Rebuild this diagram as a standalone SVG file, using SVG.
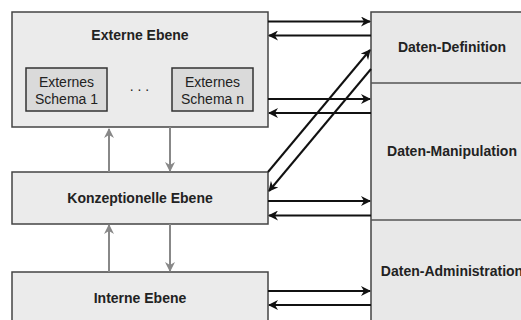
<svg xmlns="http://www.w3.org/2000/svg" width="521" height="320" viewBox="0 0 521 320">
  <style>
    .box { fill: #ebebeb; stroke: #444; stroke-width: 1.5; }
    .inner { fill: #dadada; stroke: #333; stroke-width: 1.5; }
    .col { fill: #e8e8e8; stroke: #444; stroke-width: 1.5; }
    .div { stroke: #555; stroke-width: 1.5; }
    .title { font-family: "Liberation Sans", Arial, sans-serif; font-size: 14px; font-weight: bold; fill: #222; text-anchor: middle; }
    .label { font-family: "Liberation Sans", Arial, sans-serif; font-size: 14px; fill: #222; text-anchor: middle; }
    .flow { stroke: #111; stroke-width: 2; fill: none; marker-end: url(#blackHead); }
    .level { stroke: #888; stroke-width: 2; fill: none; marker-end: url(#grayHead); }
  </style>
  <defs>
    <marker id="blackHead" viewBox="0 0 10 10" refX="9" refY="5" markerWidth="5" markerHeight="5" markerUnits="strokeWidth" orient="auto">
      <path d="M0,0 L10,5 L0,10 L3,5 z" fill="#111"/>
    </marker>
    <marker id="grayHead" viewBox="0 0 10 10" refX="9" refY="5" markerWidth="5" markerHeight="5" markerUnits="strokeWidth" orient="auto">
      <path d="M0,0 L10,5 L0,10 L3,5 z" fill="#888"/>
    </marker>
  </defs>

  <!-- right column: administration functions -->
  <g id="functions">
    <rect class="col" x="371" y="12" width="200" height="320"/>
    <line class="div" x1="371" y1="83" x2="521" y2="83"/>
    <line class="div" x1="371" y1="220" x2="521" y2="220"/>
  </g>
  <g id="daten-definition">
    <text class="title" x="452" y="52">Daten-Definition</text>
  </g>
  <g id="daten-manipulation">
    <text class="title" x="452" y="156">Daten-Manipulation</text>
  </g>
  <g id="daten-administration">
    <text class="title" x="452" y="276">Daten-Administration</text>
  </g>

  <!-- external level with its schemas -->
  <g id="externe-ebene">
    <rect class="box" x="12" y="12" width="256" height="115"/>
    <text class="title" x="140" y="40">Externe Ebene</text>
  </g>
  <g id="externes-schema-1">
    <rect class="inner" x="26" y="68" width="81" height="43"/>
    <text class="label" x="66.5" y="87">Externes</text>
    <text class="label" x="66.5" y="103.5">Schema 1</text>
  </g>
  <g id="ellipsis">
    <text class="label" x="139.5" y="91">. . .</text>
  </g>
  <g id="externes-schema-n">
    <rect class="inner" x="172" y="68" width="81" height="43"/>
    <text class="label" x="212.5" y="87">Externes</text>
    <text class="label" x="212.5" y="103.5">Schema n</text>
  </g>

  <g id="konzeptionelle-ebene">
    <rect class="box" x="12" y="172" width="256" height="52"/>
    <text class="title" x="140" y="203">Konzeptionelle Ebene</text>
  </g>

  <g id="interne-ebene">
    <rect class="box" x="12" y="272" width="256" height="60"/>
    <text class="title" x="140" y="303">Interne Ebene</text>
  </g>

  <g id="connectors">
    <!-- mappings between levels -->
    <line class="level" x1="109" y1="172" x2="109" y2="129"/>
    <line class="level" x1="170" y1="127" x2="170" y2="171"/>
    <line class="level" x1="109" y1="272" x2="109" y2="225"/>
    <line class="level" x1="170" y1="224" x2="170" y2="271"/>

    <!-- external level -->
    <line class="flow" x1="268" y1="21.5" x2="370" y2="21.5"/>
    <line class="flow" x1="371" y1="35.5" x2="269" y2="35.5"/>
    <line class="flow" x1="268" y1="99" x2="370" y2="99"/>
    <line class="flow" x1="371" y1="113" x2="269" y2="113"/>

    <!-- conceptual level to data definition -->
    <line class="flow" x1="268" y1="172" x2="370" y2="50"/>
    <line class="flow" x1="371" y1="69" x2="269" y2="191"/>

    <!-- conceptual level -->
    <line class="flow" x1="268" y1="201" x2="370" y2="201"/>
    <line class="flow" x1="371" y1="215.5" x2="269" y2="215.5"/>

    <!-- internal level -->
    <line class="flow" x1="268" y1="291" x2="370" y2="291"/>
    <line class="flow" x1="371" y1="305" x2="269" y2="305"/>
  </g>
</svg>
